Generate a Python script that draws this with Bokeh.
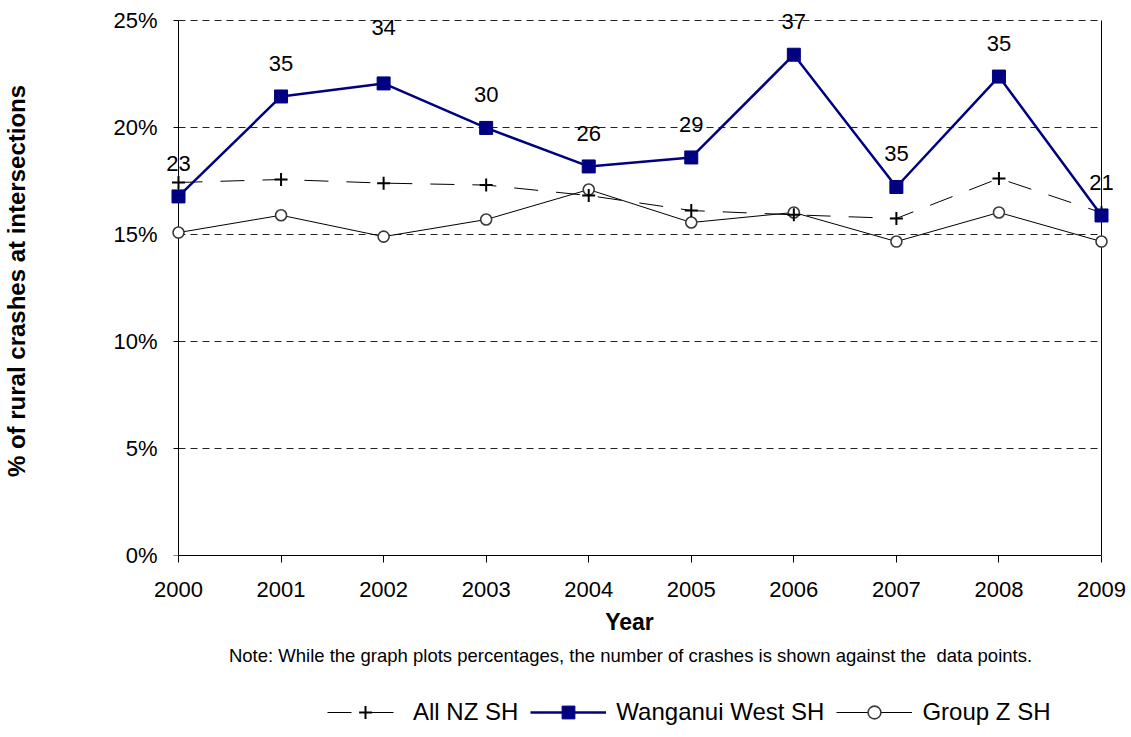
import math
from bokeh.plotting import figure
from bokeh.layouts import column
from bokeh.models import (Range1d, FixedTicker, Legend, LegendItem, Label,
                          ColumnDataSource)
from bokeh.core.properties import value
from bokeh.embed import file_html
from bokeh.resources import INLINE

# ---------------- data ----------------
years = [2000, 2001, 2002, 2003, 2004, 2005, 2006, 2007, 2008, 2009]
all_nz_sh = [17.43, 17.57, 17.40, 17.31, 16.82, 16.12, 15.92, 15.75, 17.62, 16.02]
wanganui_west_sh = [16.78, 21.45, 22.06, 19.98, 18.18, 18.60, 23.40, 17.22, 22.38, 15.89]
group_z_sh = [15.09, 15.90, 14.90, 15.70, 17.10, 15.56, 16.03, 14.67, 16.03, 14.67]
crash_counts = ["23", "35", "34", "30", "26", "29", "37", "35", "35", "21"]
y_ticks = [0, 5, 10, 15, 20, 25]
y_tick_labels = ["0%", "5%", "10%", "15%", "20%", "25%"]
x_tick_labels = ["2000", "2001", "2002", "2003", "2004", "2005", "2006", "2007", "2008", "2009"]
y_title = "% of rural crashes at intersections"
x_title = "Year"
note = "Note: While the graph plots percentages, the number of crashes is shown against the\u00a0 data points."
series_names = ["All NZ SH", "Wanganui West SH", "Group Z SH"]

FONT = "Liberation Sans"

# ---------------- geometry ----------------
px_per_year = 923 / 9.0
px_per_pct = 535 / 25.0
left_pad_px = 15      # frame left edge to 2000
right_pad_px = 19     # 2009 to frame right edge
top_pad_px = 14       # 25% to frame top
border_left = 163
border_right = 11
frame_w = 957
frame_h = 549
bottom_h = 52

x0 = years[0] - left_pad_px / px_per_year
x1 = years[-1] + right_pad_px / px_per_year
y0 = y_ticks[0]
y1 = y_ticks[-1] + top_pad_px / px_per_pct

p = figure(frame_width=frame_w, frame_height=frame_h,
           min_border_left=border_left, min_border_right=border_right,
           min_border_top=6, min_border_bottom=bottom_h,
           x_range=Range1d(x0, x1), y_range=Range1d(y0, y1),
           output_backend="svg", toolbar_location=None)
p.outline_line_color = None
p.xgrid.visible = False
p.ygrid.visible = False
p.background_fill_color = "white"
p.border_fill_color = "white"

# x axis (real axis at the bottom of the frame = 0%)
xa = p.xaxis[0]
xa.ticker = FixedTicker(ticks=years)
xa.major_label_overrides = {y: s for y, s in zip(years, x_tick_labels)}
xa.bounds = (years[0], years[-1])
xa.axis_line_color = "black"
xa.major_tick_line_color = "black"
xa.major_tick_out = 7
xa.major_tick_in = 0
xa.minor_tick_line_color = None
xa.major_label_text_font = FONT
xa.major_label_text_font_size = "22px"
xa.major_label_text_color = "black"
xa.major_label_standoff = 19

# y axis (labels + title); axis line & ticks drawn at 2000 below
ya = p.yaxis[0]
ya.ticker = FixedTicker(ticks=y_ticks)
ya.major_label_overrides = {t: s for t, s in zip(y_ticks, y_tick_labels)}
ya.axis_line_color = None
ya.major_tick_line_color = None
ya.major_tick_out = 0
ya.major_tick_in = 0
ya.minor_tick_line_color = None
ya.major_label_text_font = FONT
ya.major_label_text_font_size = "22px"
ya.major_label_text_color = "black"
ya.major_label_standoff = 6
ya.axis_label = y_title
ya.axis_label_text_font = FONT
ya.axis_label_text_font_size = "24px"
ya.axis_label_text_font_style = "bold"
ya.axis_label_text_color = "black"
ya.axis_label_standoff = 80

# gridlines (dashed), y-axis line + ticks, right border
tick_len = 5 / px_per_year
grid_vals = y_ticks[1:]
p.segment(x0=[years[0]] * len(grid_vals), x1=[years[-1]] * len(grid_vals),
          y0=grid_vals, y1=grid_vals, line_color="#222222", line_width=1,
          line_dash="7 5")
p.segment(x0=[years[0] - tick_len] * len(y_ticks), x1=[years[0]] * len(y_ticks),
          y0=y_ticks, y1=y_ticks, line_color="black", line_width=1)
p.segment(x0=[years[0], years[-1]], x1=[years[0], years[-1]],
          y0=[y_ticks[0]] * 2, y1=[y_ticks[-1]] * 2,
          line_color="black", line_width=1)

# series styles
GZ_LINE = dict(line_color="black", line_width=1)
GZ_PTS = dict(marker="circle", size=11, line_color="#3a3a3a", line_width=1.6, fill_color="white")
NZ_LINE = dict(line_color="black", line_width=1, line_dash="24 18")
NZ_PTS = dict(marker="cross", size=13, line_color="black", line_width=2)
WW_LINE = dict(line_color="#000080", line_width=2.5)
WW_PTS = dict(marker="square", size=13, line_color="#000080", fill_color="#000080")

p.line(years, group_z_sh, **GZ_LINE)
p.scatter(years, group_z_sh, **GZ_PTS)
p.line(years, all_nz_sh, **NZ_LINE)
p.scatter(years, all_nz_sh, **NZ_PTS)
p.line(years, wanganui_west_sh, **WW_LINE)
p.scatter(years, wanganui_west_sh, **WW_PTS)

# data labels (crash counts)
offsets = [-33] * len(years)
offsets[2] = -56
src = ColumnDataSource(dict(x=years, y=wanganui_west_sh, t=crash_counts, dy=offsets))
p.text(x="x", y="y", text="t", y_offset="dy", source=src,
       text_align="center", text_baseline="middle",
       text_font=value(FONT), text_font_size="22px", text_color="black")

# ---------------- footer: x title, note, legend ----------------
# its frame is aligned with the main frame; x range = page pixels
FH = 128
top_px = 6 + frame_h + bottom_h          # page y of footer top
fx0 = border_left
fx1 = border_left + frame_w
f = figure(frame_width=frame_w, frame_height=FH,
           min_border_left=border_left, min_border_right=border_right,
           min_border_top=0, min_border_bottom=0,
           x_range=Range1d(fx0, fx1), y_range=Range1d(0, FH),
           x_axis_location=None, y_axis_location=None,
           output_backend="svg", toolbar_location=None)
f.outline_line_color = None
f.xgrid.visible = False
f.ygrid.visible = False
f.background_fill_color = "white"
f.border_fill_color = "white"

f.add_layout(Label(x=629, y=FH - (621 - top_px), text=x_title,
                   text_align="center", text_baseline="middle",
                   text_font=FONT, text_font_size="23px",
                   text_font_style="bold", text_color="black"))
f.add_layout(Label(x=630, y=FH - (655 - top_px), text=note,
                   text_align="center", text_baseline="middle",
                   text_font=FONT, text_font_size="18.5px",
                   text_color="black"))

# legend glyph renderers (series plotted outside this footer's visible range)
r_nz = [f.line(years, all_nz_sh, **NZ_LINE), f.scatter(years, all_nz_sh, **NZ_PTS)]
r_ww = [f.line(years, wanganui_west_sh, **WW_LINE), f.scatter(years, wanganui_west_sh, **WW_PTS)]
r_gz = [f.line(years, group_z_sh, **GZ_LINE), f.scatter(years, group_z_sh, **GZ_PTS)]

glyph_h = 32
lg = Legend(items=[LegendItem(label=n, renderers=r)
                   for n, r in zip(series_names, [r_nz, r_ww, r_gz])],
            location=(327 - fx0, (top_px + FH) - 712 - glyph_h // 2),
            orientation="horizontal",
            glyph_width=76, glyph_height=glyph_h, label_standoff=10,
            padding=0, margin=0, spacing=12,
            border_line_color=None, background_fill_alpha=0,
            label_text_font=FONT, label_text_font_size="24px",
            label_text_color="black")
f.add_layout(lg, "center")

layout = column(p, f, spacing=0)
open("out.html", "w").write(file_html(layout, INLINE))
